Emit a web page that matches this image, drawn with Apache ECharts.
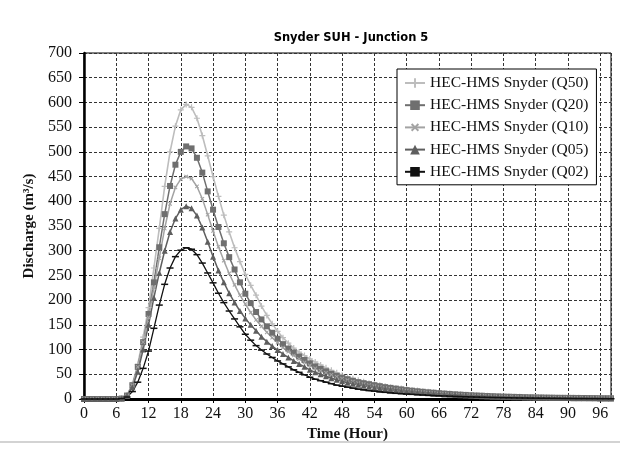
<!DOCTYPE html>
<html>
<head>
<meta charset="utf-8">
<script src="https://cdn.jsdelivr.net/npm/echarts@6/dist/echarts.min.js"></script>
<style>
  html, body { margin: 0; padding: 0; background: #fff; }
  #main { width: 638px; height: 456px; }
</style>
</head>
<body>
<div id="main"></div>
<script>
// hours 0..98, one value per hour
var hours = Array.from({length: 99}, (_, i) => i);

var q50 = [0,0,0,0,0,0,0,1,8,30,70,125,185,265,345,430,500,552,585,596,590,568,533,492,450,410,372,338,306,278,252,230,210,188,169,152,137,124,113,103,95,88,81,75,69,63,58,53,48,44,41,38,35,32,30,28,26,24,22.5,21,19.5,18.2,17,15.8,14.7,13.7,12.7,11.8,11,10.2,9.5,8.8,8.2,7.6,7.1,6.6,6.1,5.7,5.3,4.9,4.6,4.3,4,3.7,3.5,3.3,3.1,2.9,2.7,2.6,2.5,2.4,2.3,2.2,2.1,2,1.9,1.8,1.7];
var q20 = [0,0,0,0,0,0,0,1,7,28,65,115,172,236,307,374,431,474,500,511,507,488,458,420,383,348,315,287,262,236,213,194,176,161,147,134,122,111,102,94,86,79,72,66,61,56,51,47,43,40,37,34,32,30,28,26,24,22.5,21,19.5,18,16.8,15.7,14.6,13.6,12.7,11.8,11,10.2,9.5,8.8,8.2,7.6,7.1,6.6,6.1,5.7,5.3,4.9,4.6,4.3,4,3.7,3.5,3.3,3.1,2.9,2.7,2.5,2.4,2.3,2.2,2.1,2,1.9,1.8,1.7,1.6,1.5];
var q10 = [0,0,0,0,0,0,0,1,7,28,65,115,165,225,285,345,395,428,445,450,446,430,405,373,340,308,280,254,231,210,192,175,160,147,135,124,114,104,96,88,81,74,68,62,57,53,49,45,41,38,35,32,30,28,26,24,22,21,19.5,18,17,15.8,14.7,13.7,12.8,11.9,11,10.2,9.5,8.8,8.2,7.6,7.1,6.6,6.1,5.7,5.3,4.9,4.6,4.3,4,3.7,3.5,3.3,3.1,2.9,2.7,2.5,2.3,2.2,2.1,2,1.9,1.8,1.7,1.6,1.5,1.4,1.3];
var q05 = [0,0,0,0,0,0,0,1,6,24,55,100,150,205,255,300,338,365,383,390,386,371,347,318,288,260,236,214,195,178,163,150,138,126,116,107,99,91,84,77,71,65,59,54,50,46,42,39,36,33,31,29,27,25,23,21.5,20,18.5,17,16,15,14,13,12.2,11.4,10.6,9.9,9.2,8.6,8,7.4,6.9,6.4,5.9,5.5,5.1,4.7,4.4,4.1,3.8,3.5,3.3,3.1,2.9,2.7,2.5,2.3,2.1,2,1.9,1.8,1.7,1.6,1.5,1.4,1.3,1.2,1.1,1];
var q02 = [0,0,0,0,0,0,0,1,4,15,34,62,97,143,190,232,265,288,301,306,303,292,275,255,235,214,195,178,162,146,131,119,108,99,91,84,77,71,65,59,54,49,44,40,37,34,31,28,26,24,22,20,18.5,17,16,14.5,13.5,12.5,11.5,10.7,10,9.4,8.8,8.2,7.6,7.1,6.6,6.1,5.7,5.3,4.9,4.5,4.2,3.9,3.6,3.3,3.1,2.9,2.7,2.5,2.3,2.1,2,1.8,1.7,1.6,1.5,1.4,1.3,1.2,1.1,1,0.9,0.9,0.8,0.8,0.7,0.7,0.6];

var seriesNames = ['HEC-HMS Snyder (Q50)', 'HEC-HMS Snyder (Q20)', 'HEC-HMS Snyder (Q10)', 'HEC-HMS Snyder (Q05)', 'HEC-HMS Snyder (Q02)'];

var plusPath = 'path://M4,0H6V4H10V6H6V10H4V6H0V4H4Z';

function pairs(vals) {
  return vals.map((v, i) => [hours[i], v]);
}

function lineSeries(name, vals, color, symbol, size, rotate, width) {
  return {
    name: name,
    type: 'line',
    data: pairs(vals),
    showSymbol: true,
    symbol: symbol,
    symbolSize: size,
    symbolRotate: rotate,
    itemStyle: { color: color },
    lineStyle: { color: color, width: width },
    emphasis: { disabled: true }
  };
}

var serif = 'Liberation Serif';

var myChart = echarts.init(document.getElementById('main'));
var option = {
  animation: false,
  title: {
    text: 'Snyder SUH - Junction 5',
    left: 346,
    top: 27,
    textAlign: 'center',
    textStyle: { fontFamily: 'DejaVu Sans', fontWeight: 'bold', fontSize: 11.5, color: '#000' }
  },
  grid: {
    left: 84, right: 27, top: 53, bottom: 57,
    show: true, borderColor: '#000', borderWidth: 1
  },
  legend: {
    orient: 'vertical',
    left: 397,
    top: 69,
    padding: [6, 8, 5, 7],
    itemWidth: 20,
    itemHeight: 12,
    itemGap: 6.2,
    backgroundColor: '#fff',
    borderColor: '#000',
    borderWidth: 1,
    borderRadius: 0,
    textStyle: { fontFamily: serif, fontSize: 15.5, lineHeight: 16, color: '#111' },
    data: seriesNames
  },
  xAxis: {
    type: 'value',
    min: 0, max: 98, interval: 6,
    name: 'Time (Hour)',
    nameLocation: 'middle',
    nameGap: 26,
    nameTextStyle: { fontFamily: serif, fontWeight: 'bold', fontSize: 15, color: '#111' },
    axisLine: { onZero: false, lineStyle: { color: '#000', width: 3 } },
    axisTick: { show: true, length: 4, lineStyle: { color: '#000' } },
    axisLabel: { showMaxLabel: false, margin: 7, fontFamily: serif, fontSize: 16, color: '#111' },
    splitLine: { show: true, lineStyle: { color: '#333', width: 1, type: [3, 2] } }
  },
  yAxis: {
    type: 'value',
    min: 0, max: 700, interval: 50,
    name: 'Discharge (m³/s)',
    nameLocation: 'middle',
    nameGap: 39,
    nameTextStyle: { fontFamily: serif, fontWeight: 'bold', fontSize: 15, color: '#111' },
    axisLine: { show: true, lineStyle: { color: '#000', width: 2.5 } },
    axisTick: { show: true, length: 5, lineStyle: { color: '#000' } },
    axisLabel: { margin: 12, fontFamily: serif, fontSize: 16, color: '#111' },
    splitLine: { show: true, lineStyle: { color: '#333', width: 1, type: [3, 2] } }
  },
  graphic: [{
    type: 'line',
    shape: { x1: 0, y1: 442, x2: 620, y2: 442 },
    style: { stroke: '#c4c4c4', lineWidth: 1.5 }
  }],
  series: [
    lineSeries(seriesNames[0], q50, '#bdbdbd', plusPath, 6, 0, 1.6),
    lineSeries(seriesNames[1], q20, '#6f6f6f', 'rect', 6, 0, 1.5),
    lineSeries(seriesNames[2], q10, '#a3a3a3', plusPath, 5, 45, 1.5),
    lineSeries(seriesNames[3], q05, '#5e5e5e', 'triangle', 6, 0, 1.5),
    lineSeries(seriesNames[4], q02, '#111', 'rect', [7, 1.5], 0, 1.3)
  ]
};
myChart.setOption(option);
</script>
</body>
</html>
